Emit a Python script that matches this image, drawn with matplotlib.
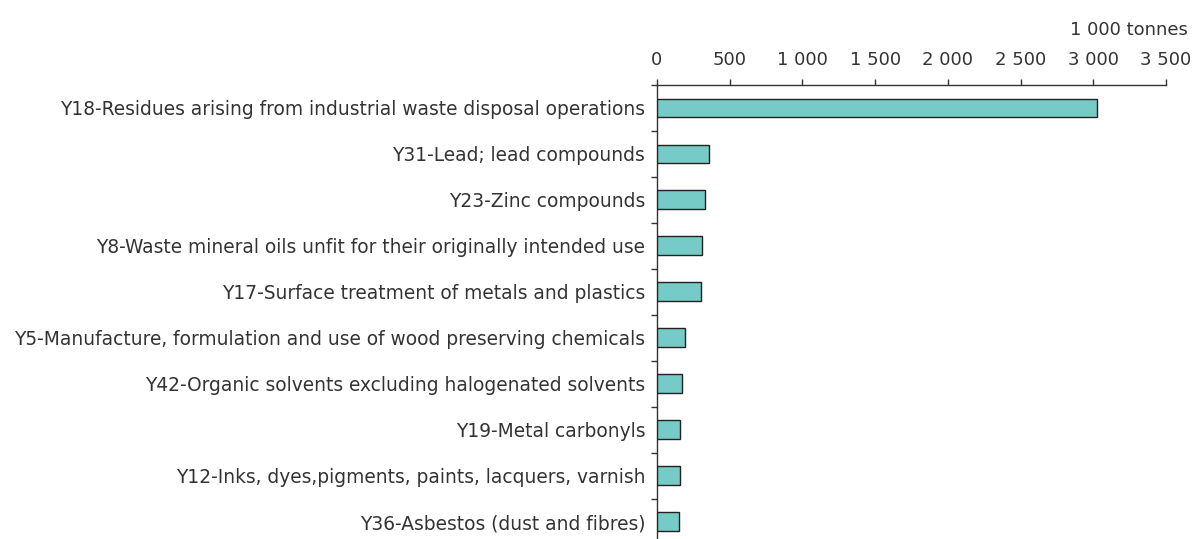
import matplotlib
matplotlib.use("Agg")
import matplotlib.pyplot as plt
import numpy as np

plt.rcParams['font.family'] = ['DejaVu Sans']

categories = [
    "Y18-Residues arising from industrial waste disposal operations",
    "Y31-Lead; lead compounds",
    "Y23-Zinc compounds",
    "Y8-Waste mineral oils unfit for their originally intended use",
    "Y17-Surface treatment of metals and plastics",
    "Y5-Manufacture, formulation and use of wood preserving chemicals",
    "Y42-Organic solvents excluding halogenated solvents",
    "Y19-Metal carbonyls",
    "Y12-Inks, dyes,pigments, paints, lacquers, varnish",
    "Y36-Asbestos (dust and fibres)",
]
values = [3028, 355, 330, 312, 305, 192, 172, 160, 155, 151]
xticks = [0, 500, 1000, 1500, 2000, 2500, 3000, 3500]
xticklabels = ["0", "500", "1 000", "1 500", "2 000", "2 500", "3 000", "3 500"]
unit_label = "1 000 tonnes"

W, H = 1195, 539
fig = plt.figure(figsize=(W / 100, H / 100), dpi=100)
left, right, top = 657, 1166, 85
ax = fig.add_axes([left / W, 0, (right - left) / W, (H - top) / H])

fs = 13
text_color = "#333333"
y = np.arange(len(categories))
ax.barh(y, values, height=0.41, color="#76CBC6", edgecolor="#222222", linewidth=1.0, zorder=3)

ax.set_xlim(0, 3500)
ax.set_ylim(9.38, -0.5)

ax.xaxis.tick_top()
ax.set_xticks(xticks)
ax.set_xticklabels(xticklabels, fontsize=fs, color=text_color)
ax.tick_params(axis="x", direction="out", length=4.3, width=1, color="#333333", pad=7)

ax.set_yticks(y)
ax.set_yticklabels(categories, fontsize=13.4, color=text_color)
ax.tick_params(axis="y", which="major", length=0, pad=8.5)
ax.set_yticks(np.arange(-0.5, 9.5, 1.0), minor=True)
ax.tick_params(axis="y", which="minor", direction="out", length=4.3, width=1, color="#333333")

for s in ["right", "bottom"]:
    ax.spines[s].set_visible(False)
for s in ["top", "left"]:
    ax.spines[s].set_color("#333333")
    ax.spines[s].set_linewidth(1)

fig.text(1188 / W, 1 - 30 / H, unit_label, ha="right", va="center", fontsize=fs, color=text_color)

fig.savefig("out.png", dpi=100)
